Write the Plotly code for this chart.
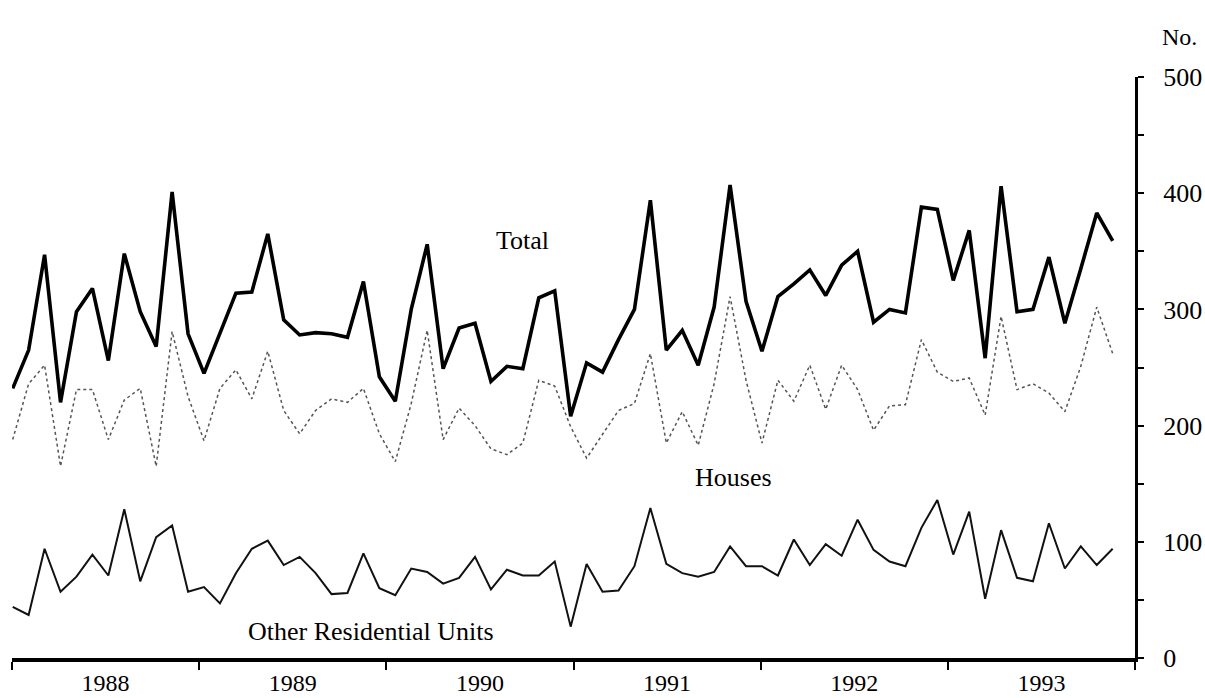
import plotly.graph_objects as go

total = [232, 265, 347, 220, 298, 318, 256, 348, 298, 268, 401, 279,
         245, 280, 314, 315, 365, 291, 278, 280, 279, 276, 324, 242,
         221, 300, 356, 249, 284, 288, 238, 251, 249, 310, 316, 208,
         254, 246, 274, 300, 394, 265, 282, 252, 302, 407, 307, 264,
         311, 322, 334, 312, 338, 350, 289, 300, 297, 388, 386, 325,
         368, 258, 406, 298, 300, 345, 288, 335, 383, 359]

houses = [188, 236, 252, 165, 231, 231, 188, 222, 232, 165, 281, 225,
          187, 232, 248, 223, 264, 213, 193, 213, 223, 220, 232, 193,
          169, 219, 282, 188, 215, 200, 180, 175, 185, 239, 234, 199,
          172, 193, 213, 219, 262, 185, 212, 183, 236, 311, 239, 185,
          239, 221, 252, 214, 252, 231, 196, 217, 218, 274, 246, 238,
          241, 209, 294, 231, 236, 228, 212, 251, 302, 262]

other_units = [44, 37, 94, 57, 70, 89, 71, 128, 66, 104, 114, 57,
               61, 47, 73, 94, 101, 80, 87, 73, 55, 56, 90, 60,
               54, 77, 74, 64, 69, 87, 59, 76, 71, 71, 83, 27,
               81, 57, 58, 79, 129, 81, 73, 70, 74, 96, 79, 79,
               71, 102, 80, 98, 88, 119, 93, 83, 79, 112, 136, 89,
               126, 51, 110, 69, 66, 116, 77, 96, 80, 94]

year_labels = ["1988", "1989", "1990", "1991", "1992", "1993"]
y_tick_values = [0, 100, 200, 300, 400, 500]

months = list(range(len(total)))

# axis extent (in month-index units)
x_lo, x_hi = -0.044, 70.40
n_years = len(year_labels)
span = (x_hi - x_lo) / n_years
year_edges = [x_lo + k * span for k in range(n_years + 1)]
year_mids = [x_lo + (k + 0.5) * span for k in range(n_years)]

FONT = "Liberation Serif, Times New Roman, serif"
FS = 26

fig = go.Figure()
fig.add_trace(go.Scatter(x=months, y=houses, mode="lines",
                         line=dict(color="#555555", width=1.5, dash="dot"),
                         name="Houses"))
fig.add_trace(go.Scatter(x=months, y=other_units, mode="lines",
                         line=dict(color="#111111", width=2),
                         name="Other Residential Units"))
fig.add_trace(go.Scatter(x=months, y=total, mode="lines",
                         line=dict(color="#000000", width=3.6),
                         name="Total"))

fig.update_layout(
    width=1205, height=698,
    margin=dict(l=12, r=70, t=77, b=40),
    paper_bgcolor="white", plot_bgcolor="white",
    showlegend=False,
    font=dict(family=FONT, size=FS, color="black"),
    xaxis=dict(
        range=[x_lo, x_hi], automargin=False,
        showgrid=False, zeroline=False,
        showline=True, linecolor="black", linewidth=4,
        tickmode="array", tickvals=year_mids, ticktext=year_labels,
        ticks="", ticklabelstandoff=0,
        tickfont=dict(family=FONT, size=24),
        minor=dict(tickmode="array", tickvals=year_edges, ticks="outside",
                   ticklen=8, tickwidth=2, tickcolor="black"),
    ),
    yaxis=dict(
        range=[0, 500], side="right", automargin=False,
        showgrid=False, zeroline=False,
        showline=True, linecolor="black", linewidth=3,
        tickmode="array", tickvals=y_tick_values,
        ticks="outside", ticklen=6, tickwidth=2, tickcolor="black",
        ticklabelstandoff=14,
        tickfont=dict(family=FONT, size=FS),
        minor=dict(dtick=50, ticks="outside", ticklen=6, tickwidth=2,
                   tickcolor="black"),
    ),
    annotations=[
        dict(x=32.0, y=359, xref="x", yref="y", text="Total", showarrow=False,
             font=dict(family=FONT, size=FS)),
        dict(x=45.2, y=155, xref="x", yref="y", text="Houses", showarrow=False,
             font=dict(family=FONT, size=FS)),
        dict(x=22.5, y=23, xref="x", yref="y", text="Other Residential Units",
             showarrow=False, font=dict(family=FONT, size=FS)),
        dict(x=1.0223, y=1.069, xref="paper", yref="paper", text="No.",
             showarrow=False, xanchor="left", yanchor="middle",
             font=dict(family=FONT, size=24)),
    ],
)

fig.write_html(
    "out.html",
    config={"displayModeBar": False},
    post_script="document.body.style.margin='0';"
                "document.body.style.overflow='hidden';",
)
